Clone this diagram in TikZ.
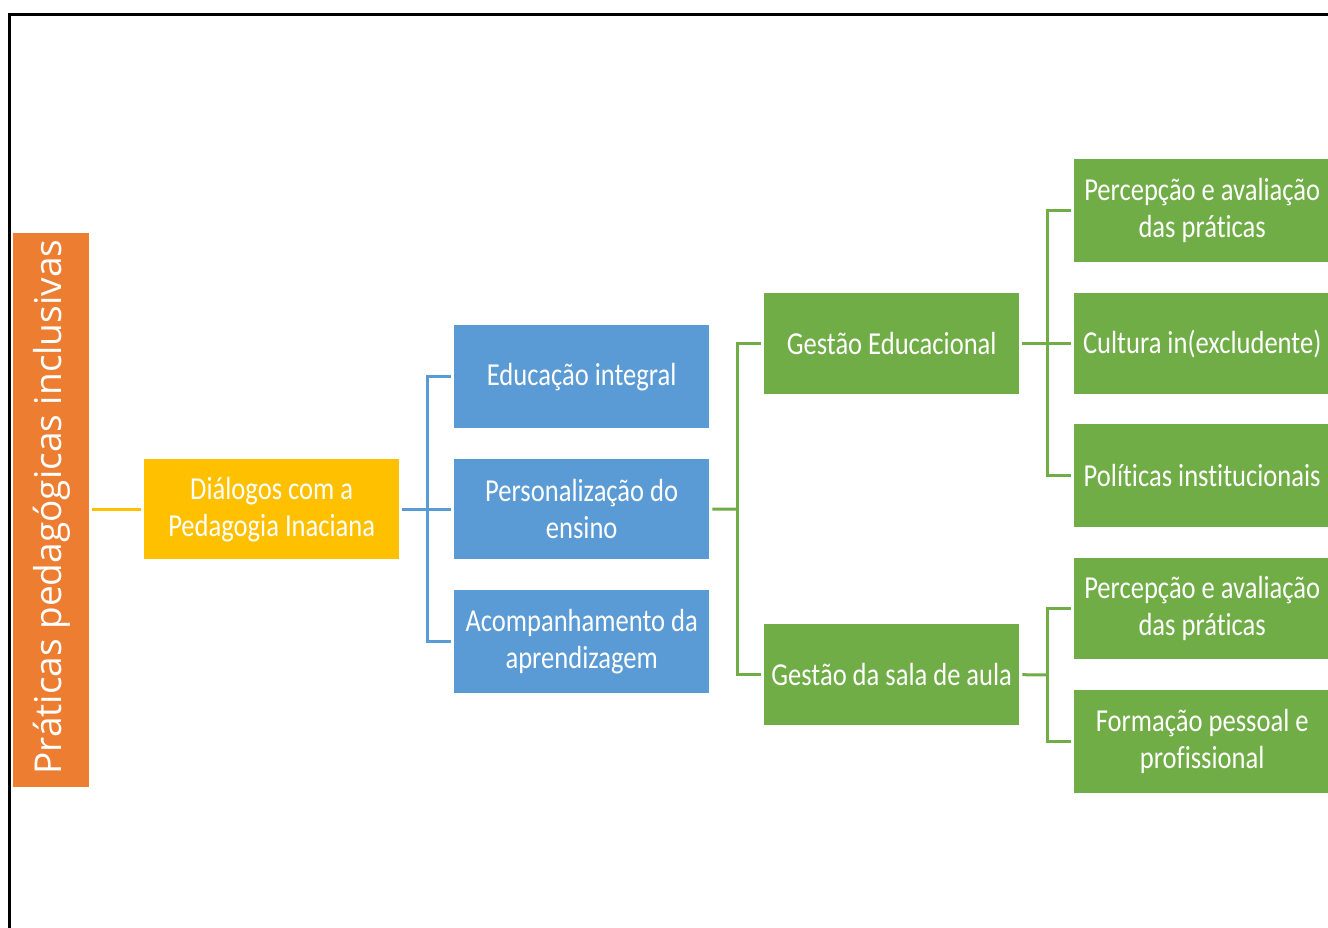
\documentclass[tikz,border=0pt]{standalone}
\usepackage{fontspec}
\setmainfont{Carlito}[Ligatures=NoCommon]
\newfontfamily\narrowfont[FakeStretch=0.83,Ligatures=NoCommon]{Carlito}
\newfontfamily\opensans{Open Sans}
\definecolor{cOrange}{HTML}{ED7D31}
\definecolor{cYellow}{HTML}{FFC000}
\definecolor{cBlue}{HTML}{5B9BD5}
\definecolor{cGreen}{HTML}{70AD47}
\tikzset{
  box/.style={minimum width=255pt, minimum height=101pt, inner sep=0pt, text=white, align=center,
    font=\narrowfont\fontsize{32}{37}\selectfont, anchor=north west},
  link/.style={line width=3pt},
}
\begin{document}
\begin{tikzpicture}[x=1pt,y=-1pt]
\useasboundingbox (0,0) rectangle (1328,928);
\draw[line width=3pt, line cap=rect] (9,928) -- (9,15) -- (1330,15);
% root
\node[fill=cOrange, minimum width=76pt, minimum height=554pt, inner sep=0pt, anchor=north west] (root) at (13,233) {};
\node[rotate=90, text=white, font=\opensans\fontsize{37}{40}\selectfont] (rootlbl) at (52,507) {Práticas pedagógicas inclusivas};
% yellow
\node[box, fill=cYellow, minimum height=100pt] (dia) at (144,459) {Diálogos com a\\Pedagogia Inaciana};
% blue
\node[box, fill=cBlue, minimum height=103pt] (edu) at (454,325) {Educação integral};
\node[box, fill=cBlue, minimum height=100pt] (per) at (454,459) {Personalização do\\ensino};
\node[box, fill=cBlue, minimum height=103pt] (aco) at (454,590) {Acompanhamento da\\aprendizagem};
% green mid
\node[box, fill=cGreen, minimum height=101pt] (ge) at (764,293) {Gestão Educacional};
\node[box, fill=cGreen, minimum height=101pt] (gs) at (764,624) {Gestão da sala de aula};
% green right
\node[box, fill=cGreen, minimum width=256pt, minimum height=103pt] (p1) at (1074,159) {Percepção e avaliação\\das práticas};
\node[box, fill=cGreen, minimum width=256pt, minimum height=101pt] (cu) at (1074,293) {Cultura in(excludente)};
\node[box, fill=cGreen, minimum width=256pt, minimum height=103pt] (po) at (1074,424) {Políticas institucionais};
\node[box, fill=cGreen, minimum width=256pt, minimum height=101pt] (p2) at (1074,558) {Percepção e avaliação\\das práticas};
\node[box, fill=cGreen, minimum width=256pt, minimum height=103pt] (fo) at (1074,690) {Formação pessoal e\\profissional};
% connectors
\draw[link, cYellow] ([xshift=3pt]root.east |- dia.west) -- ([xshift=-3pt]dia.west);
\coordinate (bv) at (427,510);
\draw[link, cBlue] ([xshift=3pt]dia.east) -- ([xshift=-3pt]per.west);
\draw[link, cBlue] ([xshift=-3pt]edu.west) -| (bv |- aco.west) -- ([xshift=-3pt]aco.west);
\coordinate (gv) at (737,509);
\draw[link, cGreen] ([xshift=3pt]per.east) -- (gv);
\draw[link, cGreen] ([xshift=-3pt]ge.west) -| (gv |- gs.west) -- ([xshift=-3pt]gs.west);
\coordinate (rv) at (1047,343);
\draw[link, cGreen] ([xshift=3pt]ge.east) -- ([xshift=-3pt]cu.west);
\draw[link, cGreen] ([xshift=-3pt]p1.west) -| (rv |- po.west) -- ([xshift=-3pt]po.west);
\coordinate (sv) at (1047,675);
\draw[link, cGreen] ([xshift=3pt]gs.east) -- (sv);
\draw[link, cGreen] ([xshift=-3pt]p2.west) -| (sv |- fo.west) -- ([xshift=-3pt]fo.west);
\end{tikzpicture}
\end{document}
